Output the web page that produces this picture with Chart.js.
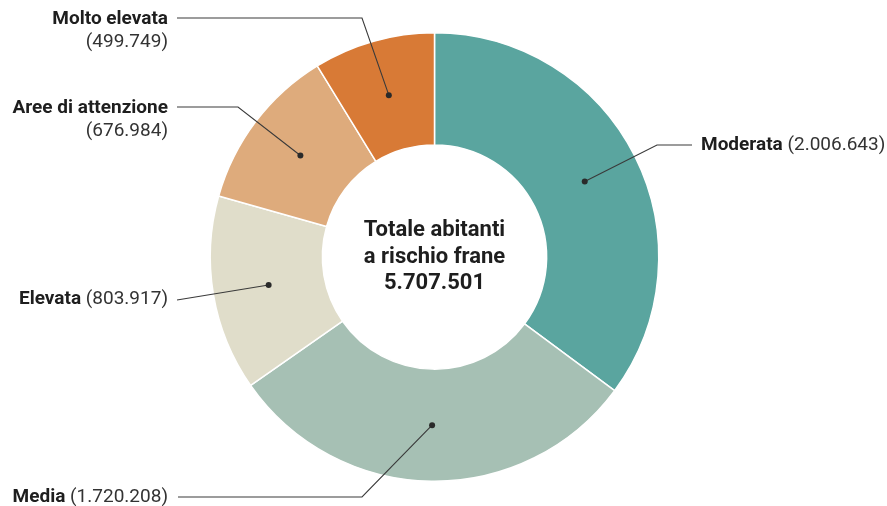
<!DOCTYPE html>
<html>
<head>
<meta charset="utf-8">
<script src="https://cdn.jsdelivr.net/npm/chart.js@4/dist/chart.umd.min.js"></script>
<style>
html,body{margin:0;padding:0;background:#fff;}
#wrap{width:887px;height:506px;position:relative;}
</style>
</head>
<body>
<div id="wrap"><canvas id="c" width="887" height="506"></canvas></div>
<script>
const categories = ["Moderata", "Media", "Elevata", "Aree di attenzione", "Molto elevata"];
const values = [2006643, 1720208, 803917, 676984, 499749];
const colors = ["#5AA59F", "#A6C0B4", "#E0DDCA", "#DEAB7C", "#D87A36"];
const centerTitle = ["Totale abitanti", "a rischio frane"];

function fmt(n){ return String(n).replace(/\B(?=(\d{3})+(?!\d))/g, "."); }
const total = values.reduce((a,b)=>a+b,0);

// label layout (positions only): side, text anchor, split lines, elbow points
const labelLayout = [
  {align:"left",  x:701, y:145, twoLines:false, path:[[657,145],[692,145]]},
  {align:"right", x:168, y:497, twoLines:false, path:[[362,497],[178,497]]},
  {align:"right", x:168, y:299, twoLines:false, path:[[177,300]]},
  {align:"right", x:168, y:108, twoLines:true,  path:[[238,107],[177,107]]},
  {align:"right", x:168, y:19,  twoLines:true,  path:[[362,18],[177,18]]}
];

const BOLD = "bold 19px Roboto, 'Noto Sans', sans-serif";
const REG = "19px Roboto, 'Noto Sans', sans-serif";

const annotPlugin = {
  id: "annot",
  afterDraw(chart){
    const ctx = chart.ctx;
    const meta = chart.getDatasetMeta(0);
    ctx.save();
    const a0 = meta.data[0];
    const cx = a0.x, cy = a0.y;
    ctx.fillStyle = "#1e1e1e";
    ctx.textAlign = "center";
    ctx.textBaseline = "middle";
    ctx.font = "bold 22px Roboto, 'Noto Sans', sans-serif";
    ctx.fillText(centerTitle[0], cx, cy - 27);
    ctx.fillText(centerTitle[1], cx, cy);
    ctx.fillText(fmt(total), cx, cy + 26);

    meta.data.forEach((arc, i) => {
      const p = arc.getCenterPoint();
      const L = labelLayout[i];
      ctx.strokeStyle = "#3a3a3a";
      ctx.lineWidth = 1.1;
      ctx.beginPath();
      ctx.moveTo(p.x, p.y);
      L.path.forEach(pt => ctx.lineTo(pt[0], pt[1]));
      ctx.stroke();
      ctx.fillStyle = "#2a2a2a";
      ctx.beginPath();
      ctx.arc(p.x, p.y, 3, 0, Math.PI*2);
      ctx.fill();

      const name = categories[i];
      const val = "(" + fmt(values[i]) + ")";
      ctx.textBaseline = "middle";
      ctx.fillStyle = "#1e1e1e";
      if (L.twoLines){
        ctx.textAlign = "right";
        ctx.font = BOLD;
        ctx.fillText(name, L.x, L.y);
        ctx.font = REG;
        ctx.fillStyle = "#333";
        ctx.fillText(val, L.x, L.y + 23);
      } else {
        ctx.font = BOLD;
        const w1 = ctx.measureText(name + " ").width;
        ctx.font = REG;
        const w2 = ctx.measureText(val).width;
        let x0 = L.align === "left" ? L.x : L.x - w1 - w2;
        ctx.textAlign = "left";
        ctx.font = BOLD;
        ctx.fillStyle = "#1e1e1e";
        ctx.fillText(name, x0, L.y);
        ctx.font = REG;
        ctx.fillStyle = "#333";
        ctx.fillText(val, x0 + w1, L.y);
      }
    });
    ctx.restore();
  }
};

new Chart(document.getElementById("c"), {
  type: "doughnut",
  data: {
    labels: categories,
    datasets: [{
      data: values,
      backgroundColor: colors,
      borderColor: "#ffffff",
      borderWidth: 1.5,
      hoverOffset: 0
    }]
  },
  options: {
    responsive: false,
    animation: false,
    cutout: "50%",
    layout: { padding: { top: 32, bottom: 24, left: 0, right: 18 } },
    plugins: { legend: { display: false }, tooltip: { enabled: false } }
  },
  plugins: [annotPlugin]
});
</script>
</body>
</html>
